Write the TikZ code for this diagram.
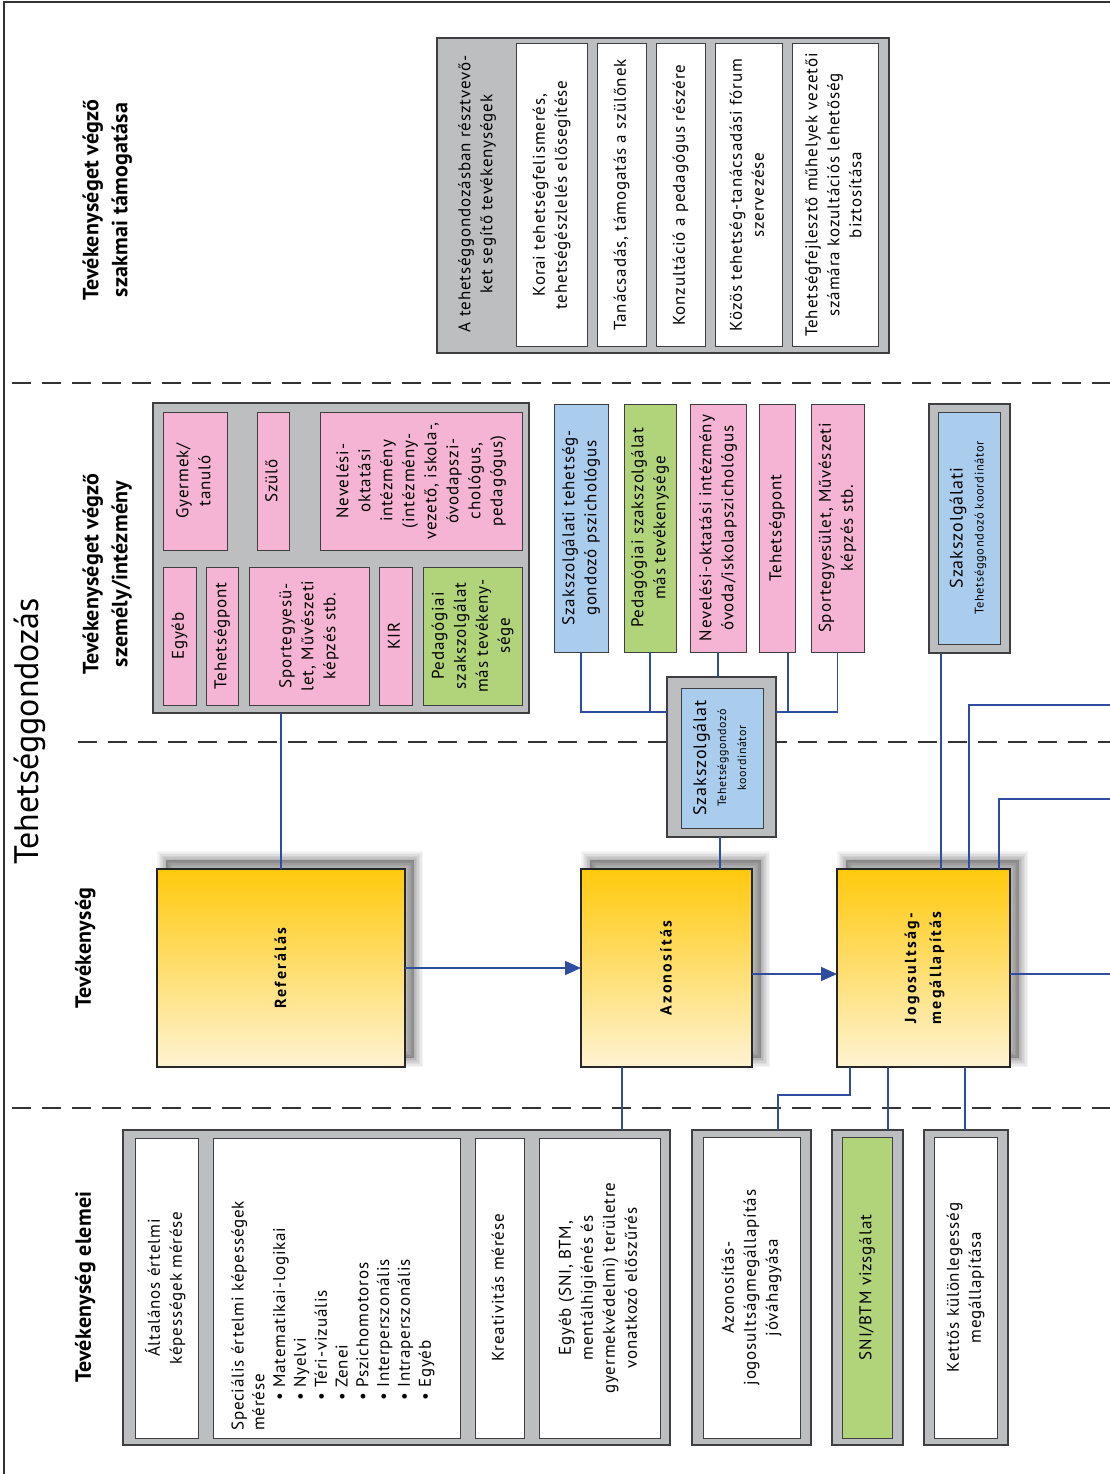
\documentclass[tikz,border=0pt]{standalone}
\usepackage{fontspec}
\usepackage{graphicx}
\setmainfont{PT Sans}[LetterSpace=5]
\newfontfamily\titlef{PT Sans}
\newfontfamily\labf{PT Sans}[LetterSpace=1]
\newfontfamily\yelf{PT Sans}[LetterSpace=14]
\usetikzlibrary{arrows.meta}
\definecolor{grayf}{HTML}{BCBEC0}
\definecolor{lineg}{HTML}{3F3F41}
\definecolor{pinkf}{HTML}{F5B4D3}
\definecolor{greenf}{HTML}{B1D47A}
\definecolor{bluef}{HTML}{AACDEE}
\definecolor{connc}{HTML}{2E4DA0}
\definecolor{ytop}{HTML}{FFC90C}
\definecolor{ybot}{HTML}{FEF3D2}
\definecolor{dashc}{HTML}{333333}
\newcommand\rt[1]{\rotatebox{90}{\begin{tabular}{@{}c@{}}#1\end{tabular}}}
\newcommand\rtl[1]{\rotatebox{90}{\begin{tabular}{@{}l@{}}#1\end{tabular}}}
\begin{document}
\begin{tikzpicture}[x=1pt,y=-1pt,
  grp/.style={draw=lineg,fill=grayf,line width=1.2pt,inner sep=0pt,outer sep=0pt},
  wbox/.style={draw=lineg,fill=white,line width=1pt,inner sep=0pt,outer sep=0pt,
     font=\fontsize{17}{22}\selectfont},
  pbox/.style={wbox,fill=pinkf},
  gbox/.style={wbox,fill=greenf},
  bbox/.style={wbox,fill=bluef},
  txt/.style={inner sep=0pt,font=\fontsize{17}{22}\selectfont},
  lab/.style={inner sep=0pt,font=\labf\bfseries\fontsize{22}{29}\selectfont},
  ybox/.style={draw=black!85,line width=2pt,top color=ytop,bottom color=ybot,
     inner sep=0pt,outer sep=0pt,font=\yelf\bfseries\fontsize{16}{25}\selectfont,
     preaction={draw=black,opacity=0.045,line width=18pt,transform canvas={shift={(9pt,9pt)}}},
     preaction={draw=black,opacity=0.045,line width=15pt,transform canvas={shift={(9pt,9pt)}}},
     preaction={draw=black,opacity=0.05,line width=12pt,transform canvas={shift={(9pt,9pt)}}},
     preaction={draw=black,opacity=0.05,line width=9pt,transform canvas={shift={(9pt,9pt)}}},
     preaction={draw=black,opacity=0.06,line width=6pt,transform canvas={shift={(9pt,9pt)}}},
     preaction={draw=black,opacity=0.06,line width=3pt,transform canvas={shift={(9pt,9pt)}}},
     preaction={fill=black,opacity=0.25,transform canvas={shift={(9pt,9pt)}}}},
  conn/.style={draw=connc,line width=1.8pt},
  arr/.style={conn,-{Triangle[length=16pt,width=14pt]}},
  sep/.style={draw=dashc,line width=1.3pt,dash pattern=on 19pt off 11pt},
  frame/.style={draw=dashc,line width=1.6pt}]
\useasboundingbox (0,0) rectangle (1109,1474);
\fill[white] (0,0) rectangle (1109,1474);
% frame and separators
\draw[frame] (1112,2) -- (4,2) -- (4,1476);
\draw[sep] (12,383) -- (1112,383);
\draw[sep] (78,742) -- (1112,742);
\draw[sep] (12,1108) -- (1112,1108);
% titles
\node[inner sep=0pt,font=\titlef\fontsize{34}{38}\selectfont] (title) at (30,731) {\rotatebox{90}{Tehetséggondozás}};
\node[lab] (lab1) at (107,200) {\rt{Tevékenységet végző\\szakmai támogatása}};
\node[lab] (lab2) at (107,574) {\rt{Tevékenységet végző\\személy/intézmény}};
\node[lab] (lab3) at (85,948) {\rt{Tevékenység}};
\node[lab] (lab4) at (85,1287) {\rt{Tevékenység elemei}};
% top support group
\node[grp,minimum width=452pt,minimum height=315pt] (tgrp) at (663,195.5) {};
\node[txt] (tlab) at (477,194) {\rt{A tehetséggondozásban résztvevő-\\ket segítő tevékenységek}};
\node[wbox,minimum width=71pt,minimum height=302pt] (t1) at (551.5,195) {\rt{Korai tehetségfelismerés,\\tehetségészlelés elősegítése}};
\node[wbox,minimum width=49pt,minimum height=302pt] (t2) at (621.5,195) {\rt{Tanácsadás, támogatás a szülőnek}};
\node[wbox,minimum width=49pt,minimum height=302pt] (t3) at (680.5,195) {\rt{Konzultáció a pedagógus részére}};
\node[wbox,minimum width=67pt,minimum height=302pt] (t4) at (748.5,195) {\rt{Közös tehetség-tanácsadási fórum\\szervezése}};
\node[wbox,minimum width=86pt,minimum height=302pt] (t5) at (835,195) {\rt{Tehetségfejlesztő műhelyek vezetői\\számára kozultációs lehetőség\\biztosítása}};
% person / institution group
\node[grp,minimum width=376pt,minimum height=310pt] (pgrp) at (341,558) {};
\node[pbox,minimum width=64pt,minimum height=138pt] (p1) at (195,481) {\rt{Gyermek/\\tanuló}};
\node[pbox,minimum width=32pt,minimum height=138pt] (p2) at (273,481) {\rt{Szülő}};
\node[pbox,minimum width=202pt,minimum height=138pt] (p3) at (421,481) {\rt{Nevelési-\\oktatási\\intézmény\\(intézmény-\\vezető, iskola-,\\óvodapszi-\\chológus,\\pedagógus)}};
\node[pbox,minimum width=33pt,minimum height=138pt] (p4) at (179.5,636) {\rt{Egyéb}};
\node[pbox,minimum width=32pt,minimum height=138pt] (p5) at (222,636) {\rt{Tehetségpont}};
\node[pbox,minimum width=120pt,minimum height=138pt] (p6) at (309,636) {\rt{Sportegyesü-\\let, Művészeti\\képzés stb.}};
\node[pbox,minimum width=33pt,minimum height=138pt] (p7) at (395.5,636) {\rt{KIR}};
\node[gbox,minimum width=99pt,minimum height=138pt] (p8) at (472.5,636) {\rt{Pedagógiai\\szakszolgálat\\más tevékeny-\\sége}};
% column boxes
\node[bbox,minimum width=54pt,minimum height=248pt] (c1) at (581,528) {\rt{Szakszolgálati tehetség-\\gondozó pszichológus}};
\node[gbox,minimum width=52pt,minimum height=248pt] (c2) at (650,528) {\rt{Pedagógiai szakszolgálat\\más tevékenysége}};
\node[pbox,minimum width=56pt,minimum height=248pt] (c3) at (718,528) {\rt{Nevelési-oktatási intézmény\\óvoda/iskolapszichológus}};
\node[pbox,minimum width=36pt,minimum height=248pt] (c4) at (777,528) {\rt{Tehetségpont}};
\node[pbox,minimum width=53pt,minimum height=248pt] (c5) at (837.5,528) {\rt{Sportegyesület, Művészeti\\képzés stb.}};
% coordinators
\node[grp,minimum width=109pt,minimum height=160pt] (k1) at (721.5,757) {};
\node[bbox,minimum width=82pt,minimum height=140pt,font=\fontsize{12}{20}\selectfont] (k1i) at (722,758) {\rt{{\fontsize{18}{20}\selectfont Szakszolgálat}\\Tehetséggondozó\\koordinátor}};
\node[grp,minimum width=81pt,minimum height=249pt] (k2) at (969.5,528.5) {};
\node[bbox,minimum width=62pt,minimum height=232pt,font=\fontsize{12.5}{21}\selectfont] (k2i) at (969,528) {\rt{{\fontsize{18}{21}\selectfont Szakszolgálati}\\Tehetséggondozó koordinátor}};
% activity boxes
\node[ybox,minimum width=248pt,minimum height=198pt] (ref) at (281,968) {\rt{Referálás}};
\node[ybox,minimum width=171pt,minimum height=198pt] (azon) at (666.5,968) {\rt{Azonosítás}};
\node[ybox,minimum width=173pt,minimum height=198pt] (jog) at (923.5,968) {\rt{Jogosultság-\\megállapítás}};
% element groups
\node[grp,minimum width=547pt,minimum height=315pt] (bg1) at (396.5,1287.5) {};
\node[wbox,minimum width=63pt,minimum height=300pt] (b1) at (166.5,1288) {\rt{Általános értelmi\\képességek mérése}};
\node[wbox,minimum width=247pt,minimum height=300pt] (b2) at (336.5,1288) {};
\node[txt,anchor=south,font=\fontsize{17}{20.8}\selectfont] (b2t) at (333,1431) {\rtl{Speciális értelmi képességek\\mérése\\\hspace*{30pt}• Matematikai-logikai\\\hspace*{30pt}• Nyelvi\\\hspace*{30pt}• Téri-vizuális\\\hspace*{30pt}• Zenei\\\hspace*{30pt}• Pszichomotoros\\\hspace*{30pt}• Interperszonális\\\hspace*{30pt}• Intraperszonális\\\hspace*{30pt}• Egyéb}};
\node[wbox,minimum width=49pt,minimum height=300pt] (b3) at (499.5,1288) {\rt{Kreativitás mérése}};
\node[wbox,minimum width=121pt,minimum height=300pt] (b4) at (599.5,1288) {\rt{Egyéb (SNI, BTM,\\mentálhigiénés és\\gyermekvédelmi) területre\\vonatkozó előszűrés}};
\node[grp,minimum width=119pt,minimum height=315pt] (bgA) at (751.5,1287.5) {};
\node[wbox,minimum width=97pt,minimum height=301pt] (bA) at (751.5,1287.5) {\rt{Azonosítás-\\jogosultságmegállapítás\\jóváhagyása}};
\node[grp,minimum width=71pt,minimum height=315pt] (bgS) at (867.5,1287.5) {};
\node[gbox,minimum width=50pt,minimum height=301pt] (bS) at (867,1287.5) {\rt{SNI/BTM vizsgálat}};
\node[grp,minimum width=84pt,minimum height=315pt] (bgK) at (966,1287.5) {};
\node[wbox,minimum width=63pt,minimum height=301pt] (bK) at (965.5,1287.5) {\rt{Kettős különlegesség\\megállapítása}};
% helper coordinates
\coordinate (kLW) at ([yshift=-35pt]k1.north west);
\coordinate (kRE) at ([yshift=-35pt]k1.north east);
\coordinate (k1s) at ([xshift=-1.5pt]k1.south);
\coordinate (c4s) at ([xshift=11pt]c4.south);
\coordinate (j1) at ([xshift=17.5pt]jog.north);
\coordinate (j2) at ([xshift=45.5pt]jog.north);
\coordinate (j3) at ([xshift=75.5pt]jog.north);
\coordinate (r1) at (1112,705);
\coordinate (r2) at (1112,799);
\coordinate (jout) at (1112,974);
\coordinate (jb1) at ([xshift=-73.5pt]jog.south);
\coordinate (jb2) at ([xshift=-35.5pt]jog.south);
\coordinate (jb3) at ([xshift=41.5pt]jog.south);
\coordinate (gA) at ([xshift=26.5pt]bgA.north);
\coordinate (az1) at ([xshift=-44.5pt]azon.south);
% connectors
\draw[conn] (pgrp.south -| ref.north) -- (ref.north);
\draw[conn] (c1.south) |- (kLW);
\draw[conn] (c2.south) -- (c2.south |- kLW);
\draw[conn] (c3.south) -- (c3.south |- k1.north);
\draw[conn] (kRE) -| (c5.south);
\draw[conn] (c4s) -- (c4s |- kRE);
\draw[conn] (k1s) -- (k1s |- azon.north);
\draw[conn] (j1) -- (j1 |- k2.south);
\draw[conn] (j2) |- (r1);
\draw[conn] (j3) |- (r2);
\draw[arr] (ref.east) -- (azon.west);
\draw[arr] ([yshift=-6pt]azon.east) -- ([yshift=-6pt]jog.west);
\draw[conn] ([yshift=-6pt]jog.east) -- (jout);
\draw[conn] (az1) -- (az1 |- bg1.north);
\draw[conn] (jb1) -- ++(0,28) -| (gA);
\draw[conn] (jb2) -- (jb2 |- bgS.north);
\draw[conn] (jb3) -- (jb3 |- bgK.north);
\end{tikzpicture}
\end{document}
